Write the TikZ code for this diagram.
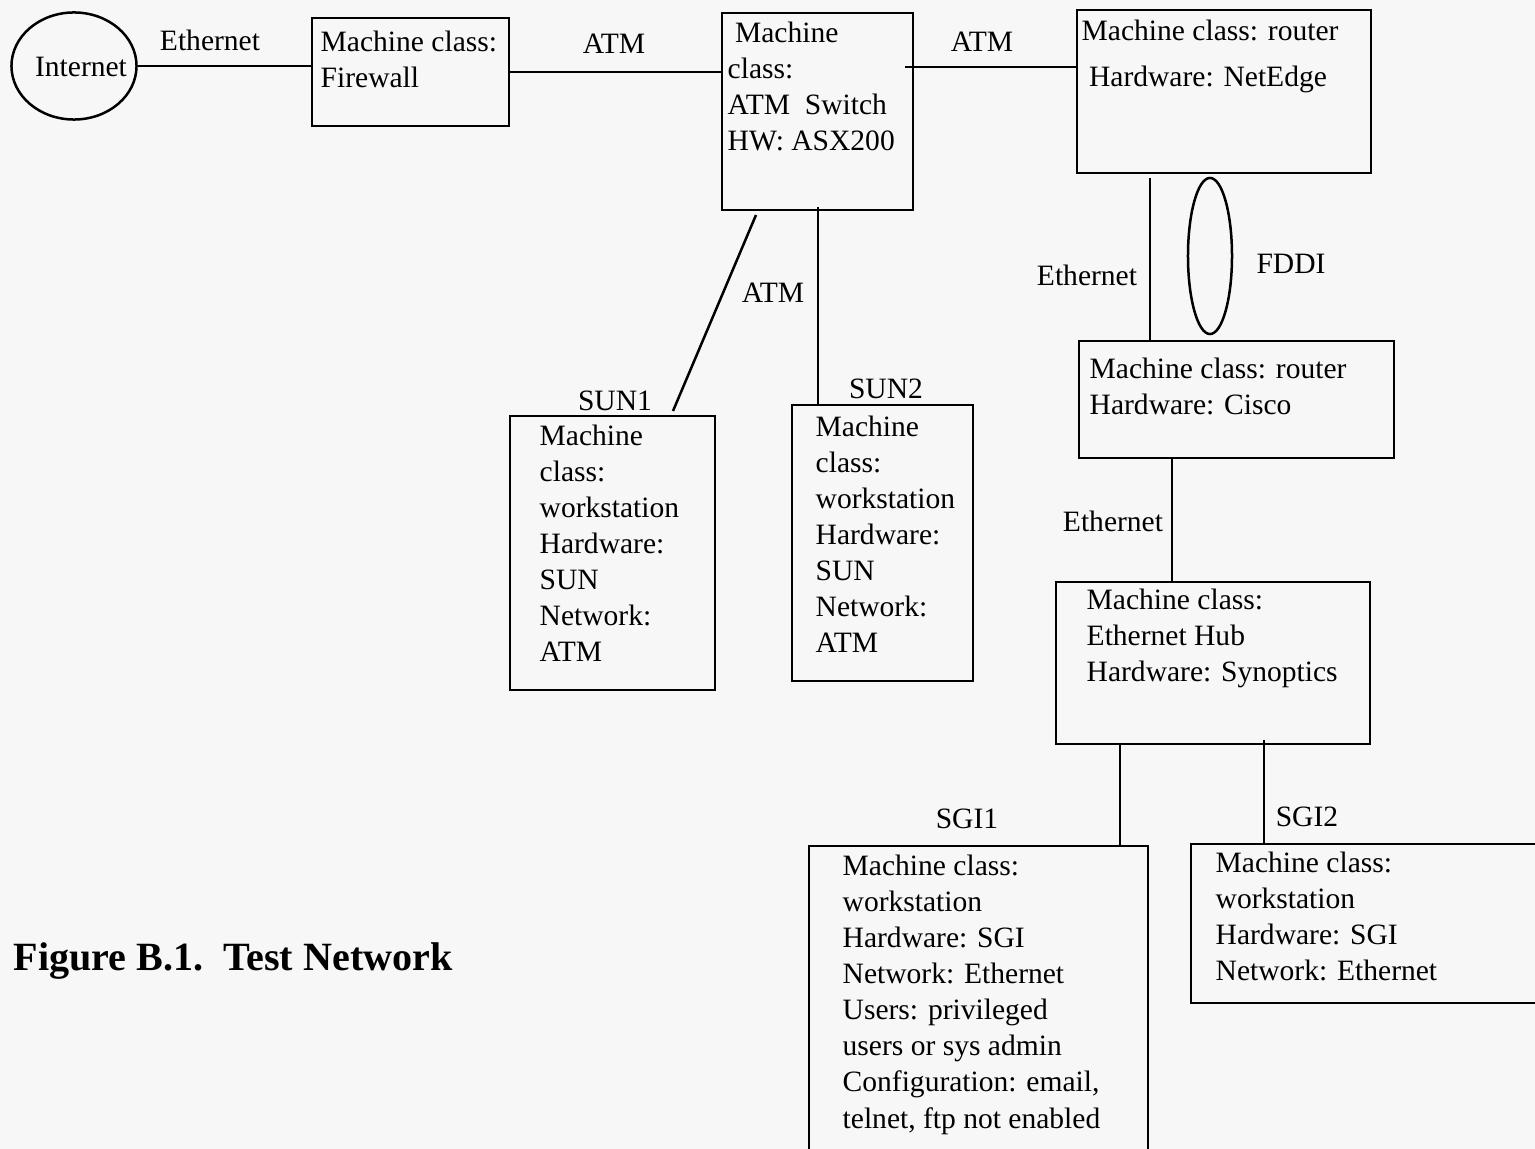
\documentclass[tikz,border=0pt]{standalone}
\usepackage{fontspec}
\setmainfont{Liberation Serif}
\usepackage{tikz}
\usetikzlibrary{calc,shapes}
\definecolor{scanpaper}{rgb}{0.97, 0.97, 0.97}
\tikzset{
  hostbox/.style={
    draw=black,line width=.25mm,rectangle,inner sep=0pt,
  },
  hosttext/.style={
    anchor=north west,inner sep=0pt,align=left,
    font=\fontsize{8.4}{10.25}\selectfont,
  },
  linktext/.style={
    inner sep=0pt,font=\fontsize{8.4}{10.25}\selectfont,
  },
  wire/.style={
    line width=.25mm,
  },
}
\begin{document}
\begin{tikzpicture}[x=0.01cm,y=-0.01cm]

% Paper
\useasboundingbox (0,0) rectangle (1535,1149);
\fill[scanpaper] (0,0) rectangle (1535,1149);
\clip (0,0) rectangle (1535,1149);

%%%%%%%%%%%%%%
% Top row
%%%%%%%%%%%%%%
  \node[ellipse,draw,line width=.25mm,minimum width=1.25cm,minimum height=1.07cm,
        inner sep=0pt] at (74,66)(inet) {};
  \node[linktext] at (81,67)(inetText) {Internet};

  \node[hostbox,minimum width=1.97cm,minimum height=1.08cm] at (410.5,72)(fw) {};
  \node[hosttext] at (320,30)(fwText) {Machine class:\\Firewall};

  \node[hostbox,minimum width=1.91cm,minimum height=1.97cm] at (817.5,111.5)(atmsw) {};
  \node[hosttext] at (727,21)(atmswText)
        {\ Machine\\class:\\ATM\ \ Switch\\HW: ASX200};

  \node[hostbox,minimum width=2.94cm,minimum height=1.63cm] at (1224,91.5)(rtrA) {};
  \node[hosttext] at (1081,19)(rtrAText)
        {Machine class: router\\[0.1cm]\ Hardware: NetEdge};

  % Descriptors
  \node[linktext] at (210,40)(ethA) {Ethernet};
  \node[linktext] at (614,44)(atmA) {ATM};
  \node[linktext] at (982,42)(atmB) {ATM};

  % points
  \coordinate (swOut) at (905,67);

  % legs
  \draw[wire] (inet.east) -- (inet.east -| fw.west);
  \draw[wire] (fw.east) -- (fw.east -| atmsw.west);
  \draw[wire] (swOut) -- (swOut -| rtrA.west);

%%%%%%%%%%%%%%
% SUN workstations
%%%%%%%%%%%%%%
  \node[hostbox,minimum width=2.05cm,minimum height=2.74cm] at (612.5,553)(sunA) {};
  \node[hosttext] at (539,424.5)(sunAText)
        {Machine\\class:\\workstation\\Hardware:\\SUN\\Network:\\ATM};

  \node[hostbox,minimum width=1.81cm,minimum height=2.76cm] at (882.5,543)(sunB) {};
  \node[hosttext] at (815,415.5)(sunBText)
        {Machine\\class:\\workstation\\Hardware:\\SUN\\Network:\\ATM};

  % Descriptors
  \node[linktext] at (615,401)(sunAName) {SUN1};
  \node[linktext] at (886,389)(sunBName) {SUN2};
  \node[linktext] at (773,293)(atmC) {ATM};

  % points
  \coordinate (swA)  at (756,215);
  \coordinate (sunAIn) at (673,411);
  \coordinate (swB)  at (818,207);

  % legs
  \draw[wire] (swA) -- (sunAIn);
  \draw[wire] (swB) -- (swB |- sunB.north);

%%%%%%%%%%%%%%
% Router chain
%%%%%%%%%%%%%%
  \node[ellipse,draw,line width=.25mm,minimum width=.44cm,minimum height=1.56cm,
        inner sep=0pt] at (1210,256)(fddi) {};

  \node[hostbox,minimum width=3.15cm,minimum height=1.17cm] at (1236.5,399.5)(rtrB) {};
  \node[hosttext] at (1089,357.5)(rtrBText)
        {Machine class: router\\Hardware: Cisco};

  \node[hostbox,minimum width=3.14cm,minimum height=1.62cm] at (1213,663)(hub) {};
  \node[hosttext] at (1086,588.5)(hubText)
        {Machine class:\\Ethernet Hub\\Hardware: Synoptics};

  % Descriptors
  \node[linktext] at (1087,275)(ethB) {Ethernet};
  \node[linktext] at (1291,264)(fddiName) {FDDI};
  \node[linktext] at (1113,521)(ethC) {Ethernet};

  % points
  \coordinate (rtrAOut) at (1150,178);
  \coordinate (rtrBOut) at (1172,520);

  % legs
  \draw[wire] (rtrAOut) -- (rtrAOut |- rtrB.north);
  \draw[wire] (rtrB.south -| rtrBOut) -- (hub.north -| rtrBOut);

%%%%%%%%%%%%%%
% SGI workstations
%%%%%%%%%%%%%%
  \node[hostbox,minimum width=3.39cm,minimum height=3.14cm] at (978.5,1003)(sgiA) {};
  \node[hosttext] at (842,854.5)(sgiAText)
        {Machine class:\\workstation\\Hardware: SGI\\Network: Ethernet\\
         Users: privileged\\users or sys admin\\Configuration: email,\\
         telnet, ftp not enabled};

  \node[hostbox,minimum width=3.54cm,minimum height=1.59cm] at (1368,923.5)(sgiB) {};
  \node[hosttext] at (1215,851.5)(sgiBText)
        {Machine class:\\workstation\\Hardware: SGI\\Network: Ethernet};

  % Descriptors
  \node[linktext] at (967,819)(sgiAName) {SGI1};
  \node[linktext] at (1307,817)(sgiBName) {SGI2};

  % points
  \coordinate (hubA) at (1120,800);
  \coordinate (hubB) at (1264,740);

  % legs
  \draw[wire] (hub.south -| hubA) -- (sgiA.north -| hubA);
  \draw[wire] (hubB) -- (hubB |- sgiB.north);

%%%%%%%%%%%
% Caption
%%%%%%%%%%%
\node[anchor=west,inner sep=0pt] at (13,961)(caption)
        {\fontsize{11.4}{13}\selectfont\bfseries Figure B.1.\ \ Test Network};

\end{tikzpicture}
\end{document}
